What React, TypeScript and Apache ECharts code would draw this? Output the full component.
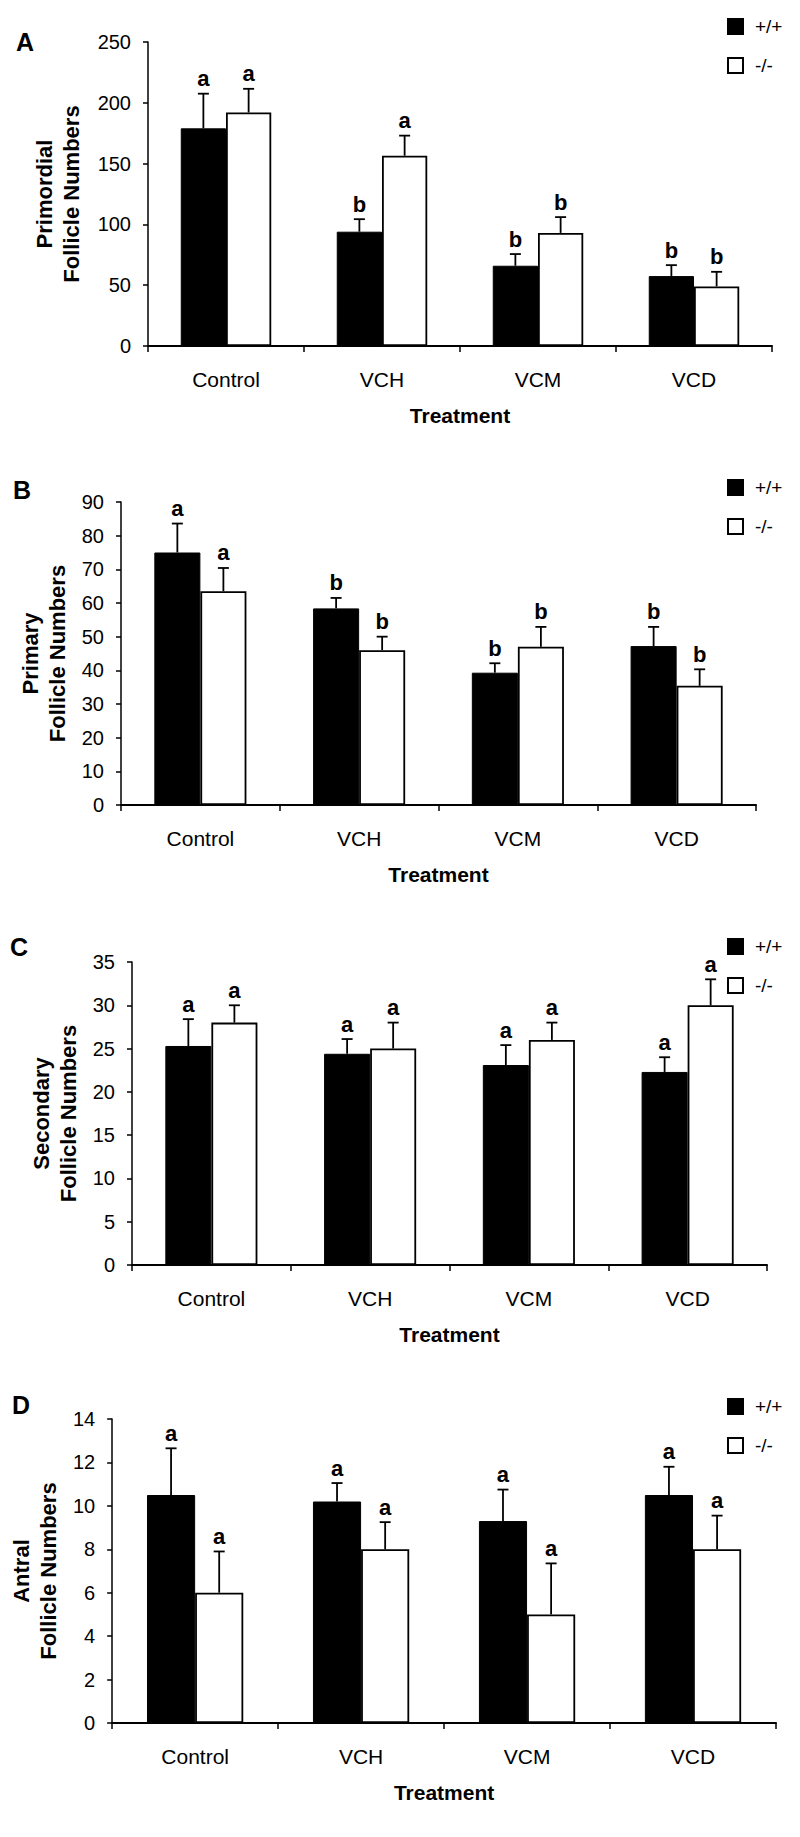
import React, { useEffect, useRef } from "react";
import * as echarts from "echarts";

// ---------- data ----------
const categories = ["Control", "VCH", "VCM", "VCD"];
const genotypes = ["+/+", "-/-"];
const panelLetters = ["A", "B", "C", "D"];
const yTitles = ["Primordial\nFollicle Numbers", "Primary\nFollicle Numbers", "Secondary\nFollicle Numbers", "Antral\nFollicle Numbers"];
const xTitle = "Treatment";

const primordialWT = [179, 94, 66, 57.5];
const primordialWTErr = [28.5, 10.3, 9.6, 9];
const primordialKO = [192, 156.5, 93, 49];
const primordialKOErr = [19.5, 16.5, 13, 12];
const primordialWTLetters = ["a", "b", "b", "b"];
const primordialKOLetters = ["a", "a", "b", "b"];
const primordialTicks = { max: 250, interval: 50 };

const primaryWT = [75, 58.4, 39.3, 47.2];
const primaryWTErr = [8.6, 3.1, 2.8, 5.7];
const primaryKO = [63.5, 46, 47, 35.4];
const primaryKOErr = [6.9, 4, 5.9, 4.9];
const primaryWTLetters = ["a", "b", "b", "b"];
const primaryKOLetters = ["a", "b", "b", "b"];
const primaryTicks = { max: 90, interval: 10 };

const secondaryWT = [25.3, 24.4, 23.1, 22.3];
const secondaryWTErr = [3.1, 1.7, 2.3, 1.7];
const secondaryKO = [28, 25, 26, 30];
const secondaryKOErr = [2, 3, 2, 3];
const secondaryWTLetters = ["a", "a", "a", "a"];
const secondaryKOLetters = ["a", "a", "a", "a"];
const secondaryTicks = { max: 35, interval: 5 };

const antralWT = [10.5, 10.2, 9.3, 10.5];
const antralWTErr = [2.15, 0.85, 1.45, 1.3];
const antralKO = [6, 8, 5, 8];
const antralKOErr = [1.9, 1.25, 2.35, 1.55];
const antralWTLetters = ["a", "a", "a", "a"];
const antralKOLetters = ["a", "a", "a", "a"];
const antralTicks = { max: 14, interval: 2 };

// ---------- layout / style ----------
const FONT = "'Liberation Sans', Arial, Helvetica, sans-serif";
const BAR_FRAC = 0.29;

const panels = [
  { wt: primordialWT, wtErr: primordialWTErr, ko: primordialKO, koErr: primordialKOErr, wtL: primordialWTLetters, koL: primordialKOLetters, ticks: primordialTicks },
  { wt: primaryWT, wtErr: primaryWTErr, ko: primaryKO, koErr: primaryKOErr, wtL: primaryWTLetters, koL: primaryKOLetters, ticks: primaryTicks },
  { wt: secondaryWT, wtErr: secondaryWTErr, ko: secondaryKO, koErr: secondaryKOErr, wtL: secondaryWTLetters, koL: secondaryKOLetters, ticks: secondaryTicks },
  { wt: antralWT, wtErr: antralWTErr, ko: antralKO, koErr: antralKOErr, wtL: antralWTLetters, koL: antralKOLetters, ticks: antralTicks },
];

const grids = [
  { left: 148, top: 42, width: 624, height: 304 },
  { left: 121, top: 502, width: 635, height: 303 },
  { left: 132, top: 962, width: 635, height: 303 },
  { left: 108, top: 1419, width: 668, height: 304 },
];
const nameGaps = [63, 50, 48, 40];
const legendTops = [17, 478, 937, 1397];
const letterPos = [
  { x: 16, y: 42 },
  { x: 13, y: 490 },
  { x: 10, y: 947 },
  { x: 12, y: 1405 },
];

function makeErrorRenderer(side: number, letters: string[]) {
  return (params: any, api: any) => {
    const idx = api.value(0);
    const mean = api.value(1);
    const upper = api.value(2);
    const base = api.coord([idx, mean]);
    const top = api.coord([idx, upper]);
    const band = api.size([1, 0])[0];
    const x = base[0] + (side * band * BAR_FRAC) / 2;
    const cap = 5.5;
    return {
      type: "group",
      children: [
        { type: "line", shape: { x1: x, y1: base[1], x2: x, y2: top[1] }, style: { stroke: "#000", lineWidth: 1.8 } },
        { type: "line", shape: { x1: x - cap, y1: top[1], x2: x + cap, y2: top[1] }, style: { stroke: "#000", lineWidth: 1.8 } },
        {
          type: "text",
          style: {
            text: letters[params.dataIndex],
            x,
            y: top[1] - 4,
            align: "center",
            verticalAlign: "bottom",
            fill: "#000",
            fontSize: 22,
            fontWeight: "bold",
            fontFamily: FONT,
          },
        },
      ],
    };
  };
}

function buildOption() {
  const grid: any[] = [];
  const xAxis: any[] = [];
  const yAxis: any[] = [];
  const series: any[] = [];
  const legend: any[] = [];
  const graphic: any[] = [];

  panels.forEach((p, k) => {
    grid.push({ ...grids[k], containLabel: false });
    xAxis.push({
      type: "category",
      gridIndex: k,
      data: categories,
      boundaryGap: true,
      name: xTitle,
      nameLocation: "middle",
      nameGap: 59,
      nameTextStyle: { fontSize: 21, fontWeight: "bold", color: "#000", fontFamily: FONT },
      axisLine: { lineStyle: { color: "#000", width: 2 } },
      axisTick: { show: true, length: 6, interval: 0, alignWithLabel: false, lineStyle: { color: "#000", width: 1.5 } },
      axisLabel: { fontSize: 21, color: "#000", fontFamily: FONT, margin: 23, interval: 0 },
      splitLine: { show: false },
    });
    yAxis.push({
      type: "value",
      gridIndex: k,
      min: 0,
      max: p.ticks.max,
      interval: p.ticks.interval,
      name: yTitles[k],
      nameLocation: "middle",
      nameRotate: 90,
      nameGap: nameGaps[k],
      nameTextStyle: { fontSize: 22, fontWeight: "bold", color: "#000", fontFamily: FONT, lineHeight: 27 },
      axisLine: { show: true, lineStyle: { color: "#000", width: 1.5 } },
      axisTick: { show: true, length: 5, lineStyle: { color: "#000", width: 1.5 } },
      axisLabel: { fontSize: 20, color: "#000", fontFamily: FONT, margin: 17 },
      splitLine: { show: false },
    });
    series.push({
      type: "bar",
      name: genotypes[0],
      xAxisIndex: k,
      yAxisIndex: k,
      data: p.wt,
      barWidth: BAR_FRAC * 100 + "%",
      barGap: "0%",
      itemStyle: { color: "#000", borderColor: "#000", borderWidth: 1 },
      z: 2,
    });
    series.push({
      type: "bar",
      name: genotypes[1],
      xAxisIndex: k,
      yAxisIndex: k,
      data: p.ko,
      barWidth: BAR_FRAC * 100 + "%",
      barGap: "0%",
      itemStyle: { color: "#fff", borderColor: "#000", borderWidth: 1.8 },
      z: 2,
    });
    series.push({
      type: "custom",
      name: "err-wt-" + k,
      xAxisIndex: k,
      yAxisIndex: k,
      renderItem: makeErrorRenderer(-1, p.wtL),
      data: p.wt.map((m, i) => [i, m, m + p.wtErr[i]]),
      encode: { x: 0, y: [1, 2] },
      z: 5,
      silent: true,
    });
    series.push({
      type: "custom",
      name: "err-ko-" + k,
      xAxisIndex: k,
      yAxisIndex: k,
      renderItem: makeErrorRenderer(1, p.koL),
      data: p.ko.map((m, i) => [i, m, m + p.koErr[i]]),
      encode: { x: 0, y: [1, 2] },
      z: 5,
      silent: true,
    });
    legend.push({
      data: genotypes,
      orient: "vertical",
      left: 727,
      top: legendTops[k],
      padding: 0,
      itemWidth: 15,
      itemHeight: 15,
      itemGap: 20,
      icon: "rect",
      selectedMode: false,
      textStyle: { fontSize: 19, color: "#000", fontFamily: FONT, padding: [0, 0, 0, 7] },
    });
    graphic.push({
      type: "text",
      left: letterPos[k].x,
      top: letterPos[k].y - 13,
      style: { text: panelLetters[k], fontSize: 25, fontWeight: "bold", fill: "#000", fontFamily: FONT },
    });
  });

  return { animation: false, backgroundColor: "#fff", grid, xAxis, yAxis, series, legend, graphic };
}

export default function App() {
  const ref = useRef<HTMLDivElement>(null);
  useEffect(() => {
    if (!ref.current) return;
    const chart = echarts.init(ref.current, undefined, { renderer: "svg" });
    chart.setOption(buildOption() as any);
    return () => chart.dispose();
  }, []);
  return <div ref={ref} style={{ position: "absolute", left: 0, top: 0, width: 800, height: 1837, background: "#fff" }} />;
}
